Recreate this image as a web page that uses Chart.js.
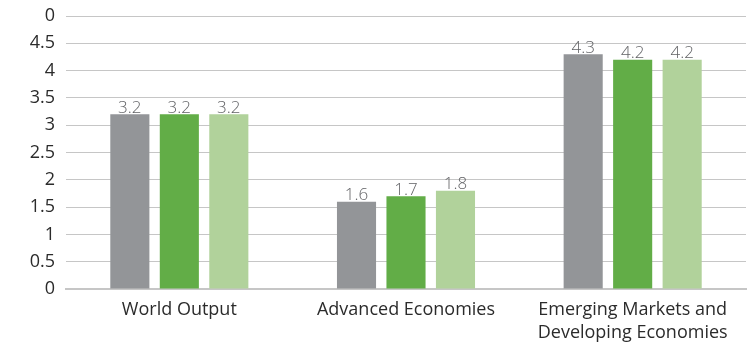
<!DOCTYPE html>
<html>
<head>
<meta charset="utf-8">
<script src="https://cdn.jsdelivr.net/npm/chart.js@4"></script>
<style>
  html, body { margin: 0; padding: 0; background: #fff; }
  #growth-chart { display: block; }
</style>
</head>
<body>
<canvas id="growth-chart" width="747" height="344"></canvas>
<script>
// categories and values
const categories = ['World Output', 'Advanced Economies', ['Emerging Markets and', 'Developing Economies']];
const seriesA = [3.2, 1.6, 4.3];
const seriesB = [3.2, 1.7, 4.2];
const seriesC = [3.2, 1.8, 4.2];
const tickLabels = ['0', '0.5', '1', '1.5', '2', '2.5', '3', '3.5', '4', '4.5', '0'];

const colors = ['#939598', '#62ad47', '#b1d29b'];
const fontFamily = '"Open Sans", sans-serif';

// draws the value above each bar
const valueLabels = {
    id: 'valueLabels',
    afterDatasetsDraw(chart) {
        const ctx = chart.ctx;
        ctx.save();
        ctx.font = '300 17px ' + fontFamily;
        ctx.fillStyle = '#626366';
        ctx.textAlign = 'center';
        ctx.textBaseline = 'bottom';
        chart.data.datasets.forEach((ds, i) => {
            chart.getDatasetMeta(i).data.forEach((bar, j) => {
                ctx.fillText(ds.data[j].toFixed(1), bar.x, bar.y + 2);
            });
        });
        ctx.restore();
    }
};

new Chart(document.getElementById('growth-chart'), {
    type: 'bar',
    data: {
        labels: categories,
        datasets: [
            { label: 'A', data: seriesA, backgroundColor: colors[0] },
            { label: 'B', data: seriesB, backgroundColor: colors[1] },
            { label: 'C', data: seriesC, backgroundColor: colors[2] }
        ]
    },
    options: {
        responsive: false,
        animation: false,
        layout: { padding: { top: 16, right: 1, left: 0, bottom: 0 } },
        datasets: {
            bar: { categoryPercentage: 0.655, barPercentage: 0.79 }
        },
        plugins: {
            legend: { display: false },
            tooltip: { enabled: false }
        },
        scales: {
            x: {
                grid: { display: false, drawTicks: false },
                border: { color: '#c6c6c6', width: 2 },
                ticks: {
                    color: '#2b2b2b',
                    font: { family: fontFamily, size: 18, lineHeight: 1.28 },
                    padding: 9,
                    maxRotation: 0,
                    autoSkip: false
                },
                afterFit(axis) {
                    axis.height = 55;
                    axis.paddingLeft = 0;
                    axis.paddingRight = 0;
                }
            },
            y: {
                min: 0,
                max: 5,
                grid: { color: '#c6c6c6', drawTicks: false },
                border: { display: false },
                ticks: {
                    stepSize: 0.5,
                    color: '#2b2b2b',
                    font: { family: fontFamily, size: 18 },
                    padding: 11,
                    callback: (v, i) => tickLabels[i]
                },
                afterFit(axis) {
                    axis.width = 66;
                    axis.paddingTop = 0;
                    axis.paddingBottom = 0;
                }
            }
        }
    },
    plugins: [valueLabels]
});
</script>
</body>
</html>
